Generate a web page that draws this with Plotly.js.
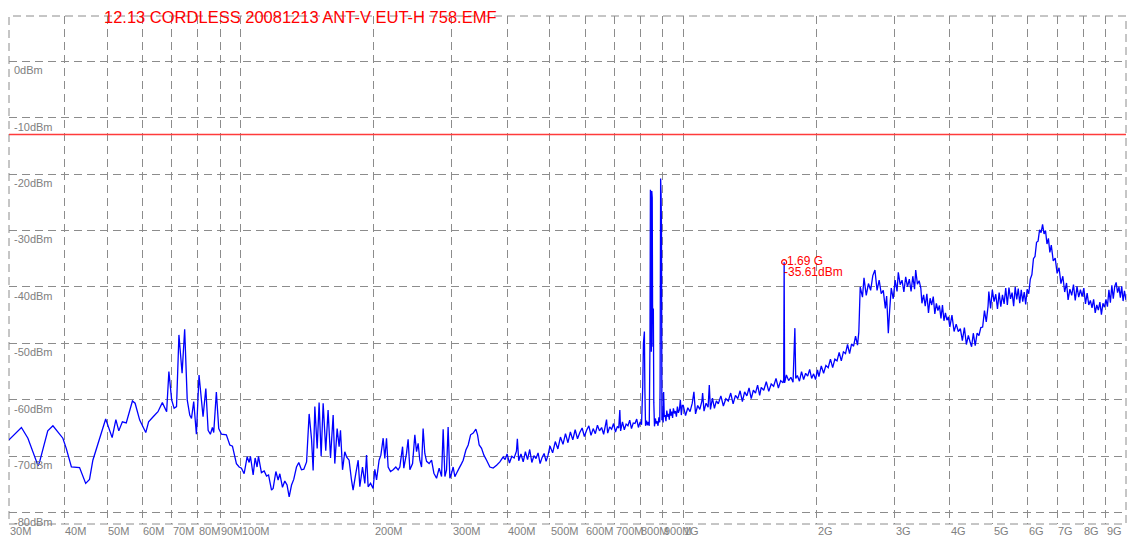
<!DOCTYPE html>
<html><head><meta charset="utf-8">
<script src="https://cdn.plot.ly/plotly-3.0.1.min.js"></script>
<style>html,body{margin:0;padding:0;background:#fff;}#chart{width:1129px;height:540px;}</style>
</head><body><div id="chart"></div>
<script>
// ---- data (frequency in MHz, level in dBm) ----
const freqA = [30,32.0,33.1,34.9,35.2,36.7,37.7,39.7,40.4,41.5,43.3,44.7,45.6,46.4,49.6,51.3,52.3,53.1,54.1,55.2,57.0,57.8,59.2,61.1,62.0,63.5,65.1,66.6,68.1,68.9,69.9,70.8,71.7,72.6,73.8,74.8,75.8,76.8,77.5,78.4,79.5,80.6,82.3,83.5,84.5,85.5,86.4,87.0,88.2,89.3,90.6,92.9,94.6,95.9,97.9,99.3];
const levelA = [-67.1,-64.9,-66.8,-71.7,-70.9,-65.5,-64.6,-66.8,-68.6,-71.9,-72.0,-74.8,-74.1,-70.7,-63.4,-66.7,-63.5,-65.5,-63.9,-64.1,-60.2,-60.6,-63.6,-65.8,-63.9,-63.0,-62.1,-60.5,-62.1,-55.0,-60.0,-61.5,-61.2,-48.5,-55.3,-47.5,-60.0,-62.7,-63.3,-60.3,-66.1,-55.6,-63.0,-58.0,-65.4,-66.1,-64.9,-65.8,-58.6,-65.1,-66.1,-66.2,-68.0,-68.2,-71.3,-71.9];

const freqB = [100.5,101.9,103.5,104.6,105.3,106.8,107.9,109.0,109.8,111.5,
113.1,114.5,115.7,117.5,118.5,120.2,121.6,122.7,124.4,125.9,
127.4,128.8,130.4,131.9,133.8,135.4,137.3,139.0,141.0,142.9,
144.7,145.9,147.2,149.0,150.5,152.1,153.7,155.8,157.7,159.7,
161.9,163.3,165.3,167.0,168.2,170.0,172.0,173.6,175.9,178.1,
179.6,182.2,184.4,186.0,188.6,190.9,192.6,194.2,196.7,199.3,
201.1,202.9,205.6,207.5,210.0,211.8,213.7,215.5,218.2,221.2,
224.3,227.0,229.0,232.3,233.8,237.1,239.1,241.3,244.7,247.6,
249.8,251.9,254.1,256.4,258.5,260.8,263.2,266.7,270.1,273.4,
277.2,281.0,284.5,286.9,289.5,292.0,294.4,297.1,299.7,302.2,
304.9,307.6,311.8,315.7,318.4,322.9,326.8,330.9,335.4,340.1,
343.1,346.0,350.3,354.6,359.6,365.8,372.1,378.8,385.3,392.0,
396.0];
const levelB = [-72.1,-73.1,-70.1,-71.1,-70.0,-73.3,-70.3,-71.9,-70.0,-72.9,
-72.6,-73.5,-73.3,-76.0,-75.7,-72.7,-74.2,-73.1,-75.5,-74.4,
-75.1,-77.2,-75.1,-74.1,-71.9,-71.1,-72.4,-72.3,-71.0,-62.5,
-67.0,-72.5,-61.2,-68.6,-60.5,-70.0,-60.6,-69.0,-61.8,-70.3,
-62.7,-71.3,-65.1,-68.3,-65.4,-72.4,-69.2,-70.1,-70.7,-74.2,
-76.0,-73.0,-70.7,-75.4,-71.9,-74.8,-69.8,-75.4,-74.8,-75.7,
-72.3,-74.2,-70.7,-69.8,-66.8,-70.4,-66.8,-71.9,-72.7,-72.4,
-71.9,-72.4,-71.9,-68.3,-72.1,-69.5,-67.0,-72.4,-71.3,-66.2,
-69.2,-67.7,-70.7,-71.9,-65.1,-69.5,-70.9,-71.3,-70.7,-73.0,
-73.9,-72.1,-73.6,-65.2,-73.6,-72.4,-64.8,-73.9,-73.0,-71.9,
-73.6,-73.0,-72.1,-71.3,-70.7,-68.9,-68.0,-66.2,-65.9,-65.2,
-66.2,-68.0,-68.6,-69.8,-70.7,-71.9,-72.1,-71.6,-71.0,-70.1,
-70.6];

const freqC = [400,405,410,415,420,422,425,430,435,440,
445,450,455,460,465,470,475,480,485,490,
495,500,507,514,521,528,535,542,549,556,
563,570,577,584,591,598,605,612,619,626,
633,640,647,654,661,668,671,675,682,689,
696,703,710,715,719,722,729,736,743,750,
757,764,771,778,785,792,799,805,810,813,
817,819,822,826,830,834,838,841,843,845,
847,849,851,852.5,854,856,858,861,865,869,
873,877,881,885,886.5,889,891,893,895,898,
901,903,906,910,914,918,922,926,930,934,
938,942,946,950,955,960,965,970,975,980,
985,990,995];
const levelC = [-69.6,-71.2,-70.0,-70.3,-69.1,-66.9,-70.8,-69.6,-71.0,-69.2,
-70.6,-68.8,-71.1,-69.9,-70.4,-69.4,-71.3,-70.2,-69.5,-70.9,
-69.8,-68.2,-69.4,-67.4,-68.7,-66.6,-67.9,-66.0,-67.6,-65.7,
-67.1,-65.3,-66.9,-65.8,-65.0,-66.5,-65.4,-64.6,-66.3,-65.1,
-66.0,-64.5,-65.5,-64.9,-66.1,-64.3,-63.5,-65.9,-64.8,-65.2,
-64.2,-65.7,-64.7,-65.0,-61.8,-65.5,-63.9,-65.3,-64.3,-64.6,
-63.6,-65.1,-64.1,-64.2,-63.4,-64.9,-63.9,-64.4,-57.7,-50.0,
-47.9,-58.0,-64.6,-63.7,-64.5,-63.9,-64.6,-50.0,-22.8,-23.4,
-51.5,-23.0,-24.2,-43.2,-50.6,-43.8,-60.5,-64.7,-63.3,-64.2,
-63.8,-64.6,-63.1,-64.0,-57.7,-20.8,-23.5,-29.3,-63.6,-62.3,
-64.0,-58.6,-63.0,-62.7,-63.8,-61.9,-63.0,-62.5,-63.5,-61.6,
-62.8,-62.1,-63.2,-61.5,-62.4,-62.0,-63.0,-61.2,-62.3,-61.8,
-60.0,-62.7,-61.0];

const freqD = [1000,1012,1024,1036,1048,1057,1066,1078,1090,1102,
1106,1114,1126,1138,1145,1152,1164,1176,1188,1200,
1216,1232,1248,1264,1280,1296,1312,1328,1344,1360,
1376,1392,1408,1424,1440,1456,1472,1488,1500,1520,
1540,1560,1580,1600,1620,1640,1660,1680,1686,1690,
1694,1710,1730,1750,1770,1787,1795,1810,1830,1850,
1870,1890,1910,1930,1950,1970,1990,2010,2025,2050,
2075,2100,2125,2150,2175,2200,2225,2250,2275,2300,
2325,2350,2375,2400,2425,2450,2475,2492];
const levelD = [-61.0,-62.8,-61.4,-62.1,-60.6,-58.6,-62.5,-61.0,-61.7,-60.2,
-58.8,-62.0,-60.6,-61.3,-57.4,-61.7,-59.7,-61.5,-60.2,-60.7,
-59.3,-61.1,-59.8,-60.2,-58.8,-60.7,-59.2,-59.8,-58.4,-60.3,
-58.6,-59.3,-57.9,-59.8,-58.3,-58.8,-57.4,-59.2,-57.8,-58.3,
-56.8,-58.5,-57.2,-57.6,-56.2,-57.9,-56.6,-57.0,-56.4,-35.61,
-57.0,-55.6,-56.6,-56.0,-56.9,-47.3,-56.2,-55.7,-56.7,-55.0,
-56.4,-55.3,-55.8,-54.6,-56.2,-55.4,-56.4,-54.7,-55.9,-54.0,
-55.3,-53.9,-54.3,-52.8,-54.3,-52.8,-53.1,-51.6,-53.1,-51.5,
-51.8,-50.2,-51.8,-50.1,-50.5,-48.7,-50.3,-48.0];

const freqE = [2500,2510,2540,2560,2590,2620,2650,2680,2710,2740,
2770,2800,2830,2860,2880,2905,2925,2950,2980,3010,
3040,3060,3090,3120,3150,3180,3210,3240,3270,3300,
3330,3350,3380,3410,3440,3460,3490,3520,3550,3580,
3610,3640,3670,3700,3730,3760,3790,3820,3850,3880,
3910,3940,3970,4000,4045,4090,4135,4180,4225,4270,
4315,4360,4405,4450,4480,4520,4565,4610,4655,4700,
4745,4790,4835,4880,4900,4945,4990,5035,5080,5125,
5170,5215,5260,5305,5350,5395,5440,5485,5530,5575,
5620,5665,5710,5755,5800,5845,5890,5935,5980,6030,
6080,6130,6180,6230,6280,6330,6380,6430,6480,6530,
6580,6630,6680,6730,6780,6850,6920,6990,7060,7130,
7200,7270,7340,7400,7470,7540,7610,7680,7750,7820,
7890,7960,8030,8100,8170,8240,8310,8380,8450,8520,
8590,8660,8730,8800,8870,8940,9010,9080,9150,9220,
9290,9360,9430,9500,9570,9640,9710,9780,9850,9920,
10000];
const levelE = [-44.5,-40.0,-41.8,-38.4,-41.5,-39.4,-40.6,-38.0,-37.0,-40.6,
-38.8,-41.2,-40.6,-43.8,-41.6,-48.2,-44.2,-40.2,-42.1,-38.8,
-40.8,-37.4,-39.6,-38.8,-40.9,-38.2,-40.0,-38.6,-40.8,-38.1,
-40.4,-37.0,-39.5,-38.9,-40.2,-42.9,-41.4,-43.4,-41.2,-44.6,
-42.0,-43.2,-41.7,-44.8,-42.9,-44.2,-43.3,-45.6,-43.2,-46.0,
-44.6,-45.9,-45.3,-47.1,-45.0,-47.9,-46.6,-47.9,-47.4,-49.5,
-47.2,-50.2,-48.6,-49.9,-50.6,-48.2,-50.4,-48.2,-48.6,-47.2,
-47.1,-44.2,-46.2,-43.4,-40.8,-43.8,-40.5,-42.6,-41.3,-43.9,
-41.0,-43.5,-41.4,-43.0,-40.2,-43.2,-40.1,-42.1,-41.0,-43.4,
-40.0,-42.2,-40.3,-42.9,-40.5,-42.6,-40.9,-43.1,-40.4,-41.2,
-38.6,-37.8,-35.0,-34.6,-32.1,-31.9,-29.9,-30.4,-28.9,-30.6,
-30.0,-32.4,-31.4,-33.9,-32.6,-35.4,-34.9,-37.6,-36.6,-39.4,
-38.1,-40.9,-39.3,-42.3,-40.4,-41.5,-39.6,-42.4,-39.9,-41.8,
-40.5,-41.7,-40.2,-43.0,-41.1,-43.2,-42.4,-43.7,-42.2,-44.6,
-43.2,-44.1,-42.7,-44.9,-42.9,-43.6,-42.2,-43.5,-40.5,-42.8,
-39.7,-42.1,-39.9,-39.2,-41.0,-40.0,-41.9,-39.9,-42.5,-40.7,
-42.3];

const xTickVals = [30,40,50,60,70,80,90,100,200,300,400,500,600,700,800,900,1000,2000,3000,4000,5000,6000,7000,8000,9000];
const xTickText = ['30M','40M','50M','60M','70M','80M','90M','100M','200M','300M','400M','500M','600M','700M','800M','900M','1G','2G','3G','4G','5G','6G','7G','8G','9G'];
const yTickVals = [0,-10,-20,-30,-40,-50,-60,-70,-80];
const yTickText = ['0dBm','-10dBm','-20dBm','-30dBm','-40dBm','-50dBm','-60dBm','-70dBm','-80dBm'];
const limitLevel = [-13];
const markerFreq = [1690];
const markerLevel = [-35.61];
const markerFreqText = ['1.69 G'];
const titleText = '12.13 CORDLESS 20081213 ANT-V EUT-H 758.EMF';

// ---- build ----
function join(fs, ls) {
  const x = [], y = [];
  for (let s = 0; s < fs.length; s++) {
    const n = Math.min(fs[s].length, ls[s].length);
    for (let i = 0; i < n; i++) { x.push(fs[s][i]); y.push(ls[s][i]); }
  }
  return {x, y};
}
const all = join([freqA, freqB, freqC, freqD, freqE], [levelA, levelB, levelC, levelD, levelE]);

const FONT = 'Liberation Sans, Arial, Helvetica, sans-serif';
const GRID = '#8c8c8c';
const DASH = '8px,5px';
const LBL = '#808080';

const traces = [
  {x: all.x, y: all.y, type: 'scatter', mode: 'lines',
   line: {color: '#0000ff', width: 1.3, simplify: false}, hoverinfo: 'skip'},
  {x: markerFreq, y: markerLevel, type: 'scatter', mode: 'markers',
   marker: {symbol: 'circle-open', size: 5, color: '#ff0000', line: {width: 1.2, color: '#ff0000'}}, hoverinfo: 'skip'}
];

const annotations = [];
xTickVals.forEach((v, i) => annotations.push({
  x: Math.log10(v), xref: 'x', y: 0, yref: 'paper', text: xTickText[i],
  xanchor: 'left', yanchor: 'top', xshift: -1, yshift: 1, showarrow: false,
  font: {family: FONT, size: 11, color: LBL}
}));
yTickVals.forEach((v, i) => annotations.push({
  x: 0, xref: 'paper', y: v, yref: 'y', text: yTickText[i],
  xanchor: 'left', yanchor: 'top', xshift: 3, yshift: -1, showarrow: false,
  font: {family: FONT, size: 11, color: LBL}
}));
annotations.push({
  x: Math.log10(markerFreq[0]), xref: 'x', y: markerLevel[0], yref: 'y', text: markerFreqText[0],
  xanchor: 'left', yanchor: 'middle', xshift: 1, yshift: 1, showarrow: false,
  font: {family: FONT, size: 12, color: '#ff0000'}
});
annotations.push({
  x: Math.log10(markerFreq[0]), xref: 'x', y: markerLevel[0], yref: 'y', text: markerLevel[0].toFixed(2) + 'dBm',
  xanchor: 'left', yanchor: 'middle', xshift: -2, yshift: -10, showarrow: false,
  font: {family: FONT, size: 12, color: '#ff0000'}
});

const layout = {
  width: 1129, height: 540,
  margin: {l: 9, r: 3, t: 16, b: 16, pad: 0},
  paper_bgcolor: '#ffffff', plot_bgcolor: '#ffffff',
  showlegend: false,
  title: {text: titleText, font: {family: FONT, size: 16.5, color: '#ff0000'},
          xref: 'container', yref: 'container', x: 104 / 1129, xanchor: 'left',
          y: 1 - 17 / 540, yanchor: 'middle'},
  xaxis: {type: 'log', range: [Math.log10(30), 4], tickmode: 'array', tickvals: xTickVals,
          showticklabels: false, ticks: '', showgrid: true, gridcolor: GRID, gridwidth: 1,
          griddash: DASH, zeroline: false, showline: false, fixedrange: true},
  yaxis: {range: [-82, 8], tickmode: 'array', tickvals: yTickVals, showticklabels: false, ticks: '',
          showgrid: true, gridcolor: GRID, gridwidth: 1, griddash: DASH, zeroline: false,
          showline: false, fixedrange: true},
  shapes: [
    {type: 'rect', xref: 'paper', yref: 'paper', x0: 0, x1: 1, y0: 0, y1: 1, layer: 'below',
     line: {color: GRID, width: 1, dash: DASH}},
    {type: 'line', xref: 'paper', yref: 'y', x0: 0, x1: 1, y0: limitLevel[0], y1: limitLevel[0],
     layer: 'above', line: {color: '#ff3b3b', width: 1.5}}
  ],
  annotations: annotations
};

Plotly.newPlot('chart', traces, layout, {staticPlot: true, displayModeBar: false});
</script>
</body></html>
